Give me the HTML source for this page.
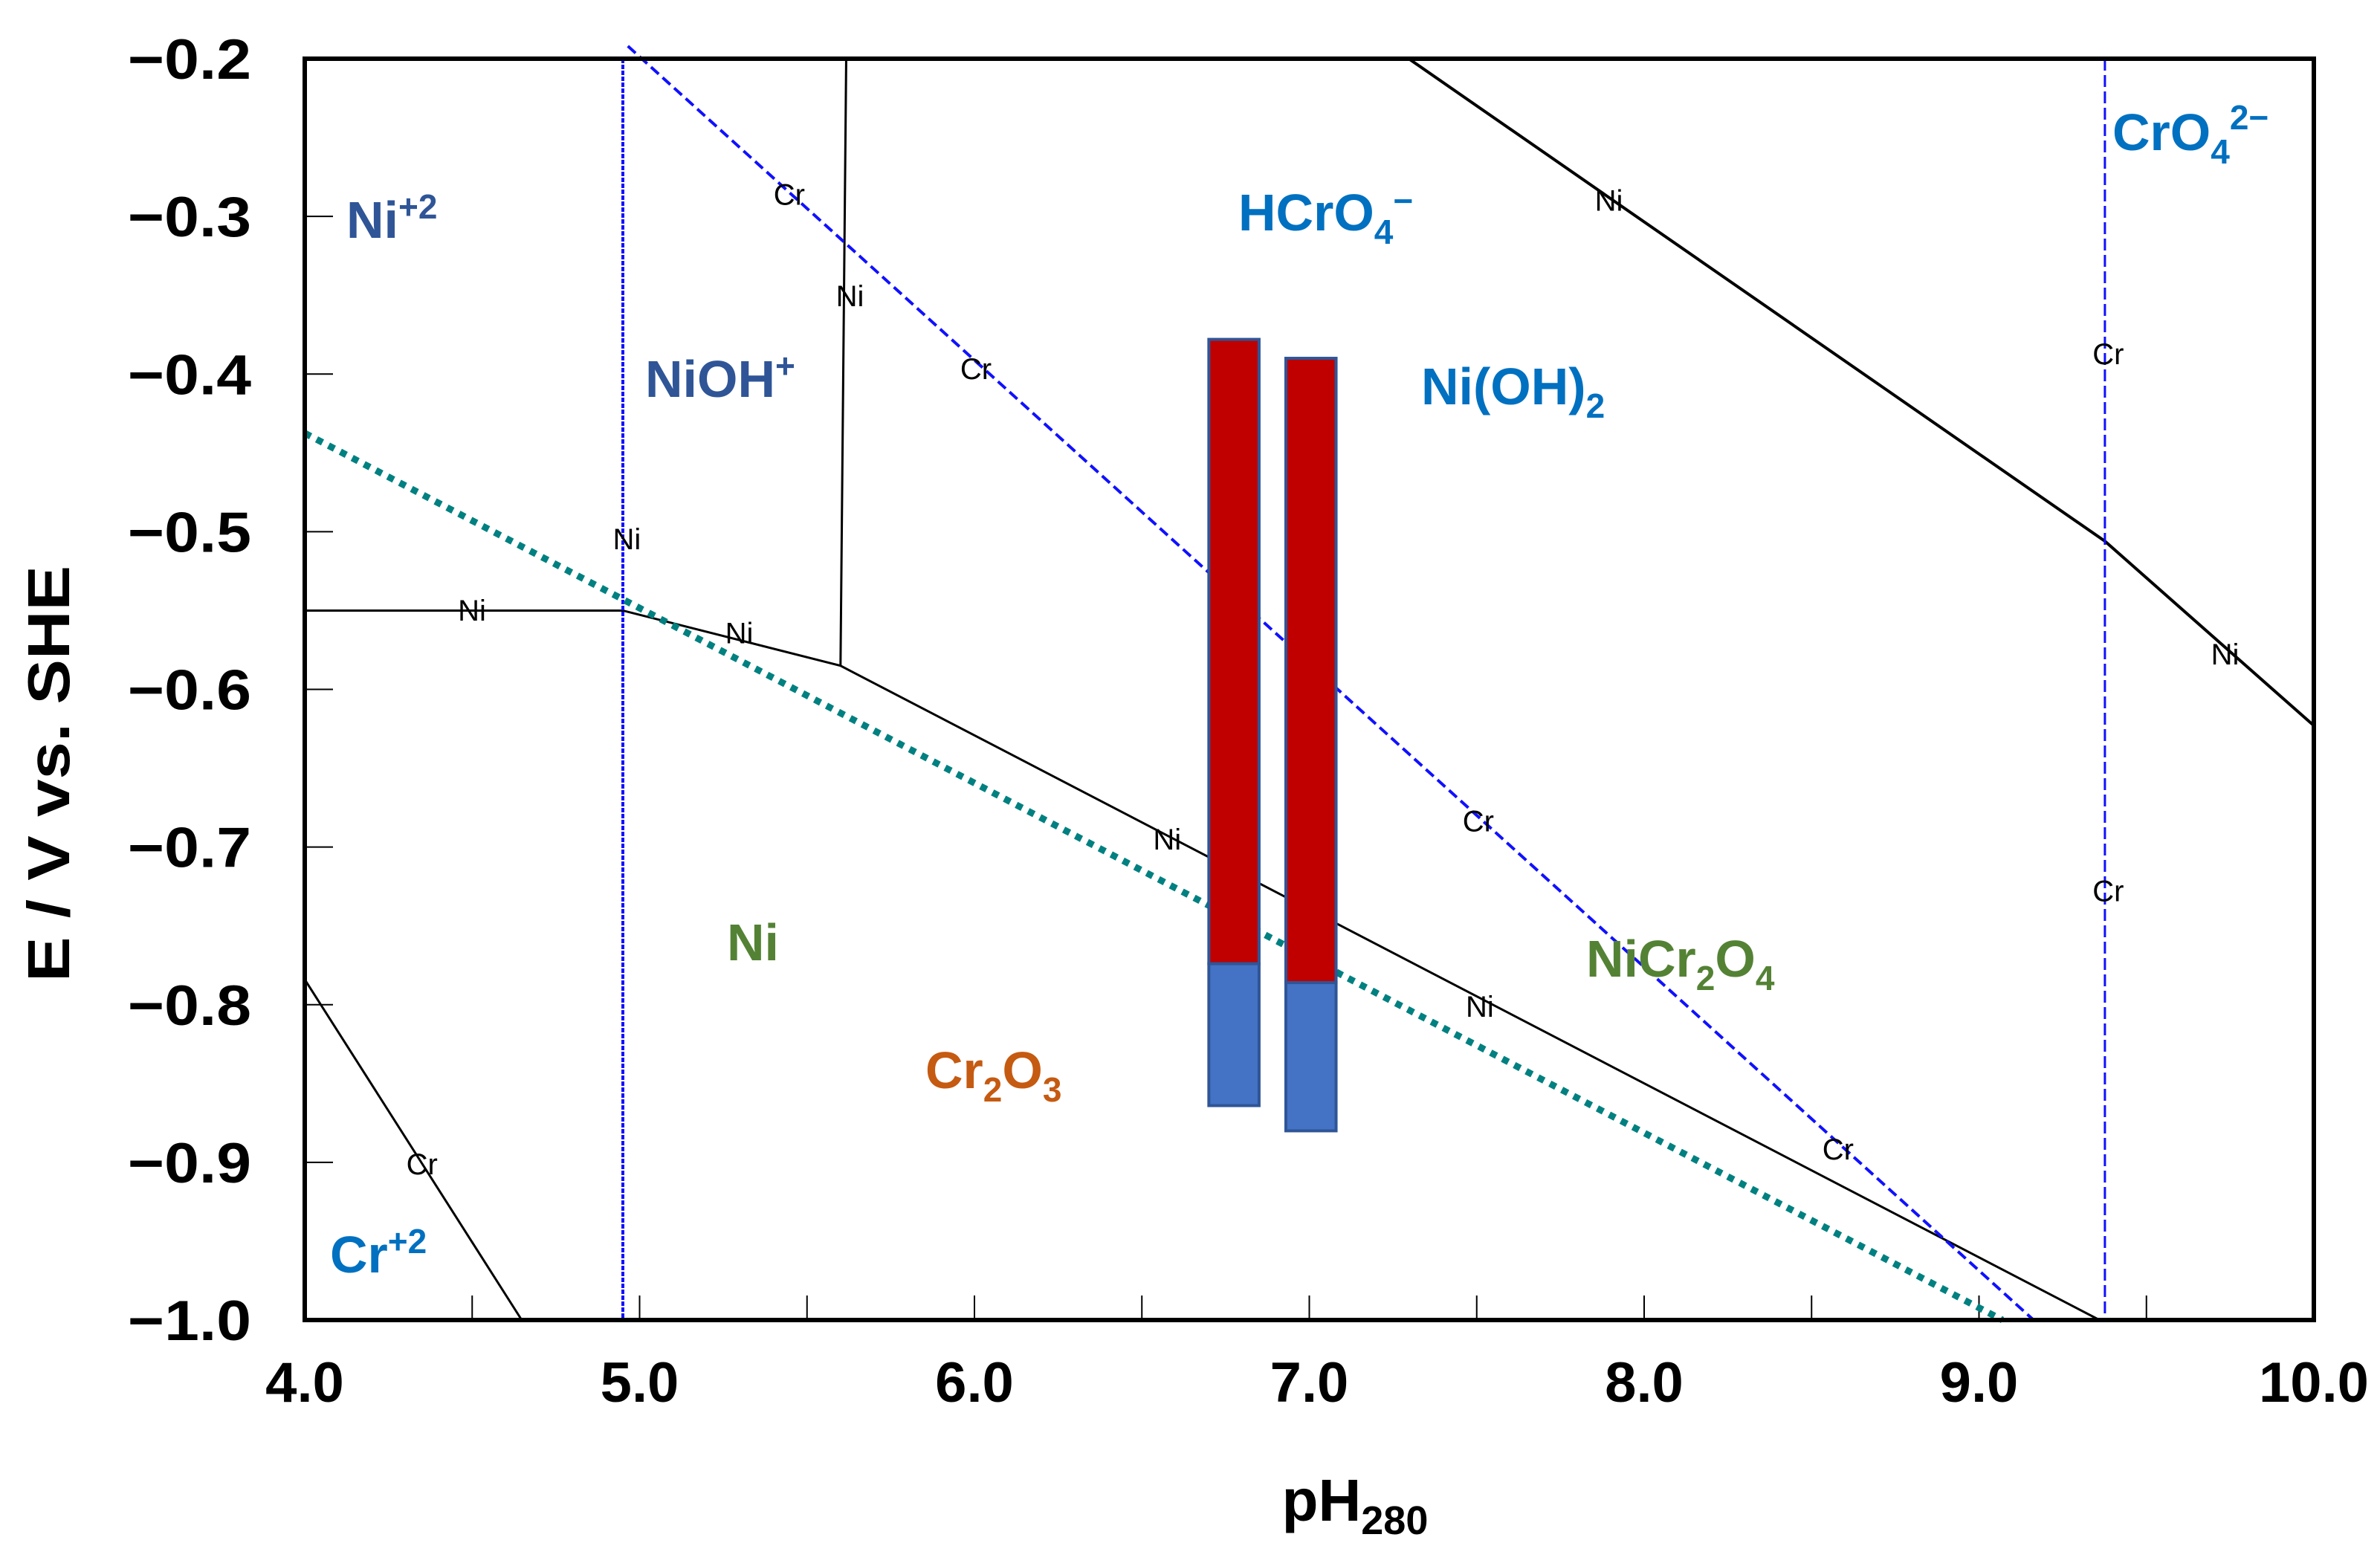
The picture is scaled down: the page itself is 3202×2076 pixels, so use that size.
<!DOCTYPE html>
<html><head><meta charset="utf-8"><style>
html,body{margin:0;padding:0;background:#fff;}
svg{display:block;}
text{font-family:"Liberation Sans",sans-serif;}
</style></head><body>
<svg id="chart" width="3202" height="2076" viewBox="0 0 3202 2076" xmlns="http://www.w3.org/2000/svg">
<g id="grid"></g>
</svg>
<script>
const xTicks = [4.0,5.0,6.0,7.0,8.0,9.0,10.0];
const xTickLabels = ["4.0","5.0","6.0","7.0","8.0","9.0","10.0"];
const yTicks = [-0.2,-0.3,-0.4,-0.5,-0.6,-0.7,-0.8,-0.9,-1.0];
const yTickLabels = ["\u22120.2","\u22120.3","\u22120.4","\u22120.5","\u22120.6","\u22120.7","\u22120.8","\u22120.9","\u22121.0"];
const niLowerX = [4.0,4.95,5.6,9.36];
const niLowerY = [-0.55,-0.55,-0.585,-1.0];
const niVertX = [5.6,5.617];
const niVertY = [-0.585,-0.2];
const niUpperX = [7.297,9.376,10.0];
const niUpperY = [-0.2,-0.506,-0.623];
const crLeftX = [4.0,4.648];
const crLeftY = [-0.784,-1.0];
const crDiagX = [4.965,9.163];
const crDiagY = [-0.192,-1.0];
const crVert1 = 4.95;
const crVert2 = 9.376;
const tealX = [4.0,9.07];
const tealY = [-0.4375,-1.0];
const barLeft = [6.70,6.93];
const barRight = [6.85,7.08];
const barTop = [-0.378,-0.390];
const barMid = [-0.774,-0.786];
const barBottom = [-0.864,-0.880];

const X0=410,X1=3113,Y0=79,Y1=1776;
const sx=v=>X0+(v-4)/6*(X1-X0);
const sy=v=>Y0+(-0.2-v)/0.8*(Y1-Y0);
const svg=document.getElementById('chart');
const NS='http://www.w3.org/2000/svg';
function mk(tag,attrs,parent){const e=document.createElementNS(NS,tag);for(const k in attrs)e.setAttribute(k,attrs[k]);(parent||svg).appendChild(e);return e;}
function poly(xs,ys,style,name){const e=mk('polyline',Object.assign({points:xs.map((x,i)=>sx(x)+','+sy(ys[i])).join(' '),fill:'none'},style));


return e;}

for(let v=4.5;v<10;v+=0.5){const t=mk('line',{x1:sx(v),x2:sx(v),y1:Y1,y2:Y1-33,stroke:'#000','stroke-width':2});

}
yTicks.forEach((v,i)=>{if(i>0&&i<yTicks.length-1){const t=mk('line',{x1:X0,x2:X0+38,y1:sy(v),y2:sy(v),stroke:'#000','stroke-width':2});

}
const l=mk('text',{x:338,y:sy(v)+27,'text-anchor':'end','font-size':76,'font-weight':'bold',fill:'#000',textLength:166,lengthAdjust:'spacingAndGlyphs'});l.textContent=yTickLabels[i];

});
xTicks.forEach((v,i)=>{const l=mk('text',{x:sx(v),y:1886,'text-anchor':'middle','font-size':76,'font-weight':'bold',fill:'#000'});l.textContent=xTickLabels[i];

});

poly(niLowerX,niLowerY,{stroke:'#000','stroke-width':3},'ni-lower-boundary');
poly(niVertX,niVertY,{stroke:'#000','stroke-width':3},'ni-vertical-boundary');
poly(niUpperX,niUpperY,{stroke:'#000','stroke-width':4},'ni-upper-boundary');
poly(crLeftX,crLeftY,{stroke:'#000','stroke-width':3},'cr-left-boundary');
poly([crVert1,crVert1],[-0.2,-1.0],{stroke:'#1010ff','stroke-width':4,'stroke-dasharray':'6 2'},'cr-vertical-boundary-1');
poly(crDiagX,crDiagY,{stroke:'#1010ff','stroke-width':4,'stroke-dasharray':'14 7'},'cr-diagonal-boundary');
poly([crVert2,crVert2],[-0.2,-1.0],{stroke:'#1010ff','stroke-width':3,'stroke-dasharray':'16 6'},'cr-vertical-boundary-2');
poly(tealX,tealY,{stroke:'#008080','stroke-width':9,'stroke-dasharray':'9 9'},'water-stability-line');

for(let i=0;i<barLeft.length;i++){
const r=mk('rect',{x:sx(barLeft[i]),y:sy(barTop[i]),width:sx(barRight[i])-sx(barLeft[i]),height:sy(barMid[i])-sy(barTop[i]),fill:'#c00000',stroke:'#2f5597','stroke-width':4});


const b=mk('rect',{x:sx(barLeft[i]),y:sy(barMid[i]),width:sx(barRight[i])-sx(barLeft[i]),height:sy(barBottom[i])-sy(barMid[i]),fill:'#4472c4',stroke:'#2f5597','stroke-width':4});

}

const f=mk('rect',{x:X0,y:Y0,width:X1-X0,height:Y1-Y0,fill:'none',stroke:'#000','stroke-width':6});



const small=[["Cr",520,128],["Ni",560,195],["Cr",643,243],["Ni",413,355],["Ni",311,402],["Ni",487,417],["Ni",769,553],["Cr",974,541],["Ni",975,663],["Cr",1211,757],["Cr",1389,233],["Cr",1389,587],["Ni",1060,132],["Ni",1466,431],["Cr",278,767]];
small.forEach(s=>{const t=mk('text',{x:s[1]*2.042,y:s[2]*2.042+14,'text-anchor':'middle','font-size':40,fill:'#000'});t.textContent=s[0];

});
</script>
<svg style="position:absolute;left:0;top:0" width="3202" height="2076">
<g font-family="Liberation Sans, sans-serif" font-weight="bold" font-size="70">
<text x="466" y="320" fill="#2f5597">Ni<tspan font-size="46" dy="-26">+2</tspan></text>
<text x="868" y="534" fill="#2f5597">NiOH<tspan font-size="46" dy="-26">+</tspan></text>
<text x="1666" y="310" fill="#0070c0">HCrO<tspan font-size="46" dy="18">4</tspan><tspan font-size="46" dy="-42">−</tspan></text>
<text x="1912" y="544" fill="#0070c0">Ni(OH)<tspan font-size="46" dy="18">2</tspan></text>
<text x="2842" y="202" fill="#0070c0">CrO<tspan font-size="46" dy="18">4</tspan><tspan font-size="46" dy="-46">2−</tspan></text>
<text x="978" y="1292" fill="#548235">Ni</text>
<text x="1245" y="1464" fill="#c55a11">Cr<tspan font-size="46" dy="18">2</tspan><tspan dy="-18">O</tspan><tspan font-size="46" dy="18">3</tspan></text>
<text x="2134" y="1314" fill="#548235">NiCr<tspan font-size="46" dy="18">2</tspan><tspan dy="-18">O</tspan><tspan font-size="46" dy="18">4</tspan></text>
<text x="444" y="1712" fill="#0070c0">Cr<tspan font-size="46" dy="-26">+2</tspan></text>
</g>
<text x="72" y="1041" transform="rotate(-90 72 1041)" text-anchor="middle" dominant-baseline="middle" font-family="Liberation Sans, sans-serif" font-weight="bold" font-size="80" fill="#000" textLength="560" lengthAdjust="spacingAndGlyphs">E / V vs. SHE</text>
<text x="1823" y="2046" text-anchor="middle" font-family="Liberation Sans, sans-serif" font-weight="bold" font-size="80" fill="#000">pH<tspan font-size="54" dy="18">280</tspan></text>
</svg>
</body></html>
